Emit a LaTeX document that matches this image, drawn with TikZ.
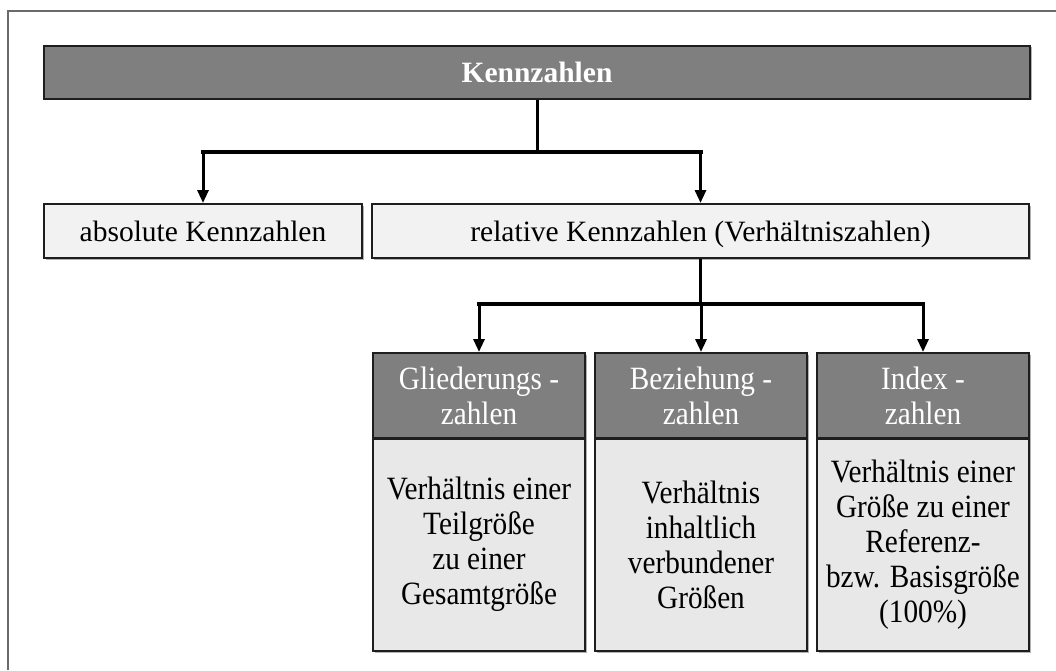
\documentclass[tikz,border=0pt]{standalone}
\usepackage{fontspec}
\setmainfont{Liberation Serif}
\newfontfamily\tallserif{Liberation Serif}[FakeStretch=0.9]
\usetikzlibrary{arrows.meta,shadows}
\definecolor{headfill}{HTML}{7F7F7F}
\definecolor{lightfill}{HTML}{F2F2F2}
\definecolor{bodyfill}{HTML}{E8E8E8}
\definecolor{framegray}{HTML}{6A6A6A}
\definecolor{edgecol}{HTML}{1E1E1E}
\tikzset{
  txt/.style={font=\fontsize{29.5}{35}\selectfont, align=center, inner sep=0pt},
  oneline/.style={text height=20pt, text depth=0pt},
  multiline/.style={font=\tallserif\fontsize{32.5}{35}\selectfont},
  box/.style={txt, draw=edgecol, line width=2pt,
    drop shadow={shadow xshift=1.5pt, shadow yshift=-1.5pt, fill=black!30, opacity=1}},
  darkbox/.style={box, fill=headfill, text=white},
  lightbox/.style={box, fill=lightfill, text=black},
  bodybox/.style={box, fill=bodyfill, text=black},
  conn/.style={line width=3pt, draw=black},
  bar/.style={line width=4pt, draw=black, line cap=rect},
  arr/.style={conn, -{Triangle[width=11pt,length=13pt]}},
}
\begin{document}
\begin{tikzpicture}[x=1pt,y=-1pt]
  \useasboundingbox (0,0) rectangle (1056,670);
  % outer frame (top and left rules)
  \draw[framegray, line width=2pt] (8,670) -- (8,11) -- (1056,11);

  % top level
  \node[darkbox, oneline, minimum width=986pt, minimum height=53pt] (top) at (537,72)
    {\bfseries Kennzahlen};

  % second level
  \node[lightbox, oneline, minimum width=318pt, minimum height=54pt] (abs) at (203,231)
    {absolute Kennzahlen};
  \node[lightbox, oneline, minimum width=657pt, minimum height=54pt] (rel) at (700.5,231)
    {relative Kennzahlen (Verhältniszahlen)};

  % third level: headers
  \node[darkbox, multiline, minimum width=212pt, minimum height=85pt] (gh) at (479,395.5)
    {Gliederungs -\\zahlen};
  \node[darkbox, multiline, minimum width=212pt, minimum height=85pt] (bh) at (701,395.5)
    {Beziehung -\\zahlen};
  \node[darkbox, multiline, minimum width=212pt, minimum height=85pt] (ih) at (923,395.5)
    {Index -\\zahlen};

  % third level: descriptions
  \node[bodybox, multiline, minimum width=212pt, minimum height=213pt] (gb) at (479,544.5)
    {Verhältnis einer\\Teilgröße\\zu einer\\Gesamtgröße};
  \node[bodybox, multiline, minimum width=212pt, minimum height=213pt] (bb) at (701,544.5)
    {Verhältnis\\inhaltlich\\verbundener\\Größen};
  \node[bodybox, multiline, minimum width=212pt, minimum height=213pt] (ib) at (923,544.5)
    {Verhältnis einer\\Größe zu einer\\Referenz-\\bzw. Basisgröße\\(100\%)};
  % header borders drawn again on top of the descriptions
  \draw[edgecol, line width=2pt] (gh.south west) -- (gh.south east);
  \draw[edgecol, line width=2pt] (bh.south west) -- (bh.south east);
  \draw[edgecol, line width=2pt] (ih.south west) -- (ih.south east);

  % connectors, first split
  \coordinate (j1) at (537,152);
  \draw[conn] (top.south) -- (j1);
  \draw[bar] (j1 -| abs.north) -- (j1 -| rel.north);
  \draw[arr] (j1 -| abs.north) -- (abs.north);
  \draw[arr] (j1 -| rel.north) -- (rel.north);

  % connectors, second split
  \coordinate (j2) at (700.5,304);
  \draw[conn] (rel.south) -- (j2);
  \draw[bar] (j2 -| gh.north) -- (j2 -| ih.north);
  \draw[arr] (j2 -| gh.north) -- (gh.north);
  \draw[arr] (j2 -| bh.north) -- (bh.north);
  \draw[arr] (j2 -| ih.north) -- (ih.north);
\end{tikzpicture}
\end{document}
